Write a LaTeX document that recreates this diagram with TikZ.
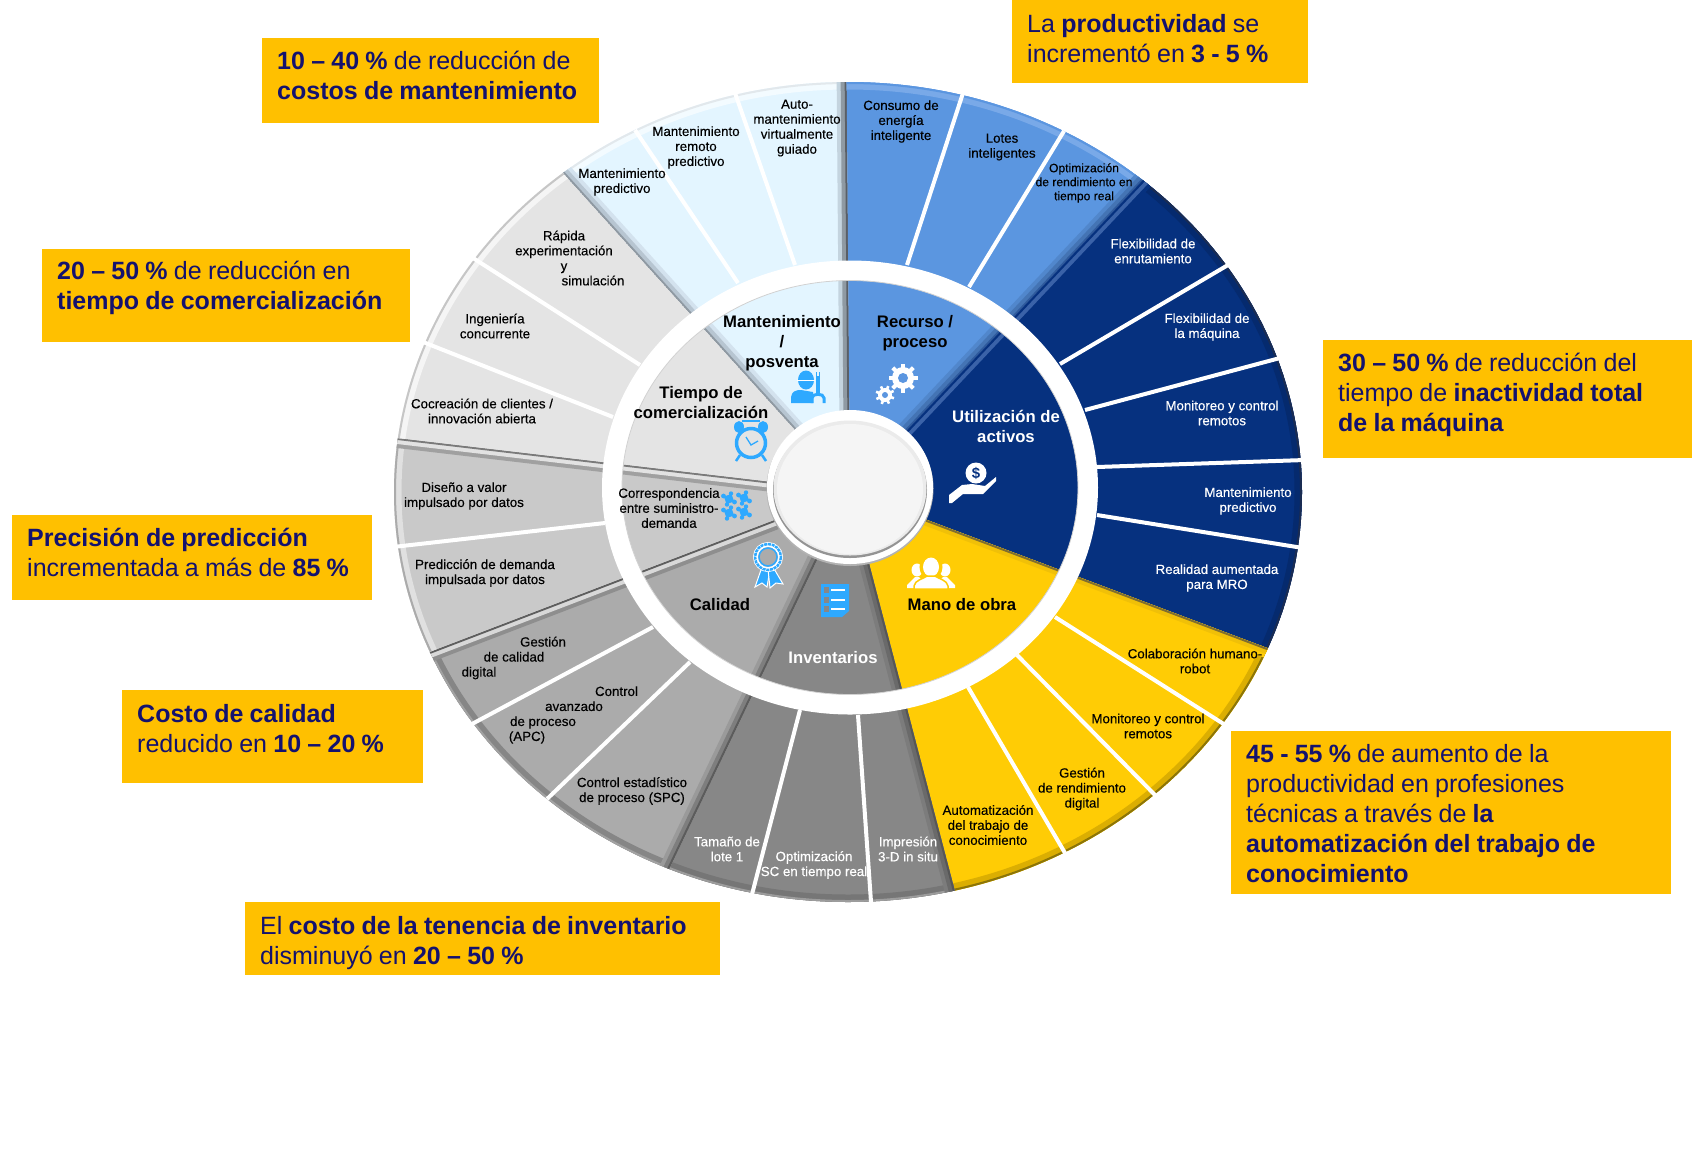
\documentclass[tikz,border=0pt]{standalone}
\usepackage{fontspec}
\setmainfont{Liberation Sans}
\newfontfamily\wheelfont[FakeBold=0.25]{Liberation Sans}
\newfontfamily\boxfont[WordSpace=0.9]{Liberation Sans}
\definecolor{boxfill}{HTML}{FFC000}
\definecolor{boxtext}{HTML}{14126E}
\definecolor{iconblue}{HTML}{2EA9FF}
\definecolor{mantfill}{HTML}{E3F5FF}
\definecolor{recfill}{HTML}{5B96E0}
\definecolor{utilfill}{HTML}{06317F}
\definecolor{manofill}{HTML}{FFCC05}
\definecolor{invfill}{HTML}{878787}
\definecolor{calfill}{HTML}{ABABAB}
\definecolor{corrfill}{HTML}{C9C9C9}
\definecolor{tiemfill}{HTML}{E4E4E4}
\tikzset{
  callout/.style={text=boxtext,anchor=west,align=left,inner sep=0pt,
    font=\boxfont\fontsize{25}{30}\selectfont},
  lbl/.style={align=center,inner sep=0pt,text=black,font=\wheelfont\fontsize{13.3}{15}\selectfont},
  lblw/.style={lbl,text=white},
  head/.style={align=center,inner sep=0pt,text=black,font=\bfseries\fontsize{16.7}{20}\selectfont},
  headw/.style={head,text=white},
  gap/.style={draw=white,line width=4pt},
}
% one part of the wheel: fill, rim, rim edge, outline, bevels
\newcommand{\wheelpart}[5]{%
  \begin{scope}
    \definecolor{rimcol}{HTML}{#2}\definecolor{edgecol}{HTML}{#3}
    \clip #4;
    \fill[#1] #4;
    \draw[color=rimcol,line width=15pt] (848,492) ellipse (454 and 410);
    \draw[color=edgecol,line width=4pt] (848,492) ellipse (454 and 410);
    #5
  \end{scope}}
\newcommand{\bevel}[5]{%
  \definecolor{bevA}{HTML}{#3}\definecolor{bevB}{HTML}{#4}\definecolor{bevC}{HTML}{#5}
  \draw[color=bevA,line width=20pt] (#1) -- (#2);
  \draw[color=bevB,line width=12pt] (#1) -- (#2);
  \draw[color=bevC,line width=4pt] (#1) -- (#2);}
\begin{document}
\begin{tikzpicture}[x=1pt,y=-1pt]
\useasboundingbox (0,0) rectangle (1692,1163);
\coordinate (hubc) at (850,491);
\coordinate (tipA) at (846,0);
\coordinate (tipB) at (1231,87);
\coordinate (tipC) at (1392,695);
\coordinate (tipD) at (986,1010);
\coordinate (tipE) at (616,980);
\coordinate (tipF) at (304,700);
\coordinate (tipG) at (261,422);
\coordinate (tipH) at (477,78);
% Wheel
\begin{scope}
\clip (848,492) ellipse (454 and 410);
\wheelpart{mantfill}{F3FBFF}{E2E8EC}{(hubc) -- (tipH) -- (tipA) -- cycle}
  {\bevel{hubc}{tipA}{C4D4DF}{8F9AA3}{5A5F66}\bevel{hubc}{tipH}{D3E2EE}{B7C5D1}{8F99A2}}
\wheelpart{recfill}{79A9E8}{5B96E0}{(hubc) -- (tipA) -- (tipB) -- cycle}
  {\bevel{hubc}{tipB}{5187CC}{4474B4}{2F5A9C}}
\wheelpart{utilfill}{052A6E}{1A2C52}{(hubc) -- (tipB) -- (1392,87) -- (tipC) -- cycle}
  {\bevel{hubc}{tipB}{06317F}{3A62A8}{06317F}}
\wheelpart{manofill}{DBAE02}{8C7508}{(hubc) -- (tipC) -- (1392,1010) -- (tipD) -- cycle}
  {\bevel{hubc}{tipC}{FFCC05}{F0C008}{806F30}}
\wheelpart{invfill}{767676}{9C9C9C}{(hubc) -- (tipD) -- (tipE) -- cycle}
  {\bevel{hubc}{tipD}{7C7C7C}{6A6A6A}{565656}}
\wheelpart{calfill}{868686}{A2A2A2}{(hubc) -- (tipE) -- (304,980) -- (tipF) -- cycle}
  {\bevel{hubc}{tipE}{9A9A9A}{7E7E7E}{5C5C5C}\bevel{hubc}{tipF}{8E8E8E}{D8D8D8}{5E5E5E}}
\wheelpart{corrfill}{E0E0E0}{ABABAB}{(hubc) -- (tipF) -- (tipG) -- cycle}
  {\bevel{hubc}{tipG}{A0A0A0}{E2E2E2}{7A7A7A}}
\wheelpart{tiemfill}{F5F5F5}{C6C6C6}{(hubc) -- (tipG) -- (261,78) -- (tipH) -- cycle}
  {}
\end{scope}
% white lines between the outer fields
\draw[gap] (795,265) -- (735,93);
\draw[gap] (738,283) -- (635,130);
\draw[gap] (640,365) -- (473,258);
\draw[gap] (613,417) -- (423,342);
\draw[gap] (605,523) -- (393,547);
\draw[gap] (653,627) -- (457,732);
\draw[gap] (690,662) -- (547,799);
\draw[gap] (800,710) -- (750,902);
\draw[gap] (858,715) -- (871,902);
\draw[gap] (968,687) -- (1065,853);
\draw[gap] (1017,655) -- (1155,795);
\draw[gap] (1055,617) -- (1230,728);
\draw[gap] (1060,364) -- (1228,265);
\draw[gap] (1085,410) -- (1280,358);
\draw[gap] (1097,467) -- (1305,460);
\draw[gap] (1097,515) -- (1303,548);
\draw[gap] (907,265) -- (963,93);
\draw[gap] (969,287) -- (1064,131);
% ring and hub
\fill[white,even odd rule] (850,487.5) ellipse (248 and 227) (850,487.5) ellipse (228 and 207);
\draw[color=black!18,line width=0.8pt] (850,487.5) ellipse (228 and 207);
\fill[color=black!30] (850,488.5) ellipse (83.5 and 77.5);
\fill[white] (850,487) ellipse (83 and 77);
\fill[color=black!42] (850,490) ellipse (77 and 68);
\fill[color=black!8] (850,488) ellipse (76.5 and 67.5);
\fill[color=black!4] (850,489) ellipse (73 and 65);
% Icons
% worker
\fill[iconblue] (806,380) ellipse (8 and 9.5);
\draw[white,line width=1pt] (797,380) -- (815,380);
\fill[iconblue] (791,403) -- (791,397) .. controls (792,391) and (796,390) .. (801,390) -- (813,392) -- (813,403) -- cycle;
\draw[color=mantfill,line width=5pt] (818,372) -- (818,394);
\draw[iconblue,line width=4.5pt] (818,372) -- (818,394);
\draw[iconblue,line width=3pt] (812,403) -- (812,398) .. controls (812,393) and (824,393) .. (824,398) -- (824,403);
\draw[color=mantfill,line width=1.5pt] (818,370) -- (818,376);
% clock
\draw[iconblue,line width=3.5pt] (751,443) circle (14.5);
\fill[iconblue] (739,427) ellipse (5 and 6);
\fill[iconblue] (763,427) ellipse (5 and 6);
\draw[iconblue,line width=1.5pt] (742,421) -- (760,421);
\draw[iconblue,line width=2.5pt] (740,455) -- (736,461);
\draw[iconblue,line width=2.5pt] (762,455) -- (766,461);
\draw[iconblue,line width=1.3pt] (746,437) -- (751,445) -- (758,441);
% puzzle
\foreach \px/\py in {729/499,744/498,729/513,744/512} {
  \fill[iconblue,rotate around={20:(\px,\py)}] (\px-4,\py-4) rectangle (\px+4,\py+4);
  \fill[iconblue] (\px-5.5,\py-3) circle (2.4);
  \fill[iconblue] (\px+5.5,\py+3) circle (2.4);
  \fill[iconblue] (\px+2,\py-5.5) circle (2.2);
  \fill[iconblue] (\px-2,\py+5.5) circle (2.2);
}
% ribbon
\fill[iconblue,draw=white,line width=1pt] (762,567) -- (755,587) -- (762,583) -- (767,587) -- (770,569) -- cycle;
\fill[iconblue,draw=white,line width=1pt] (773,567) -- (783,584) -- (776,583) -- (770,588) -- (768,569) -- cycle;
\draw[white,line width=5pt] (768,557) circle (12.5);
\draw[iconblue,line width=2.5pt,dash pattern=on 3pt off 0.8pt] (768,557) circle (13);
\draw[iconblue,line width=1.5pt] (768,557) circle (9);
% checklist
\fill[iconblue] (821,584) -- (849,584) -- (849,611) -- (842,617) -- (821,617) -- cycle;
\foreach \py in {590,600,609} {
  \draw[white,line width=1.6pt] (831,\py) -- (845,\py);
  \fill[color=invfill] (823.5,\py-3) rectangle (829,\py+2.5);
}
% people
\foreach \px/\py in {917/570,945/570} {
  \fill[white] (\px,\py) ellipse (5.5 and 6.5);
  \fill[white] (\px-10,588) -- (\px-10,585) -- (\px-2,577) -- (\px+2,577) -- (\px+10,585) -- (\px+10,588) -- cycle;
}
\draw[color=manofill,line width=3pt] (931,567) ellipse (10 and 11);
\fill[white] (931,567) ellipse (8 and 9.5);
\fill[white,draw=manofill,line width=1.5pt] (914,589) -- (914,586) .. controls (915,580) and (923,579) .. (927,576) -- (935,576) .. controls (939,579) and (947,580) .. (948,586) -- (948,589) -- cycle;
% hand
\fill[white] (976,473) circle (10.5);
\node[text=utilfill,inner sep=0pt,font=\bfseries\fontsize{15}{15}\selectfont] (coinsign) at (976,473) {\$};
\fill[white] (949,495) -- (962,485) -- (972,484) -- (985,486) -- (996,477) -- (996,481) -- (983,494) -- (963,494) -- (952,503) -- (949,503) -- cycle;
% gears
\fill[white] (903,378) circle (11);
\foreach \ang in {0,45,...,315} {
  \draw[white,line width=4pt] (903,378) -- ++(\ang:14.5);
}
\fill[color=recfill] (903,378) circle (5);
\fill[white] (885,395) circle (7);
\foreach \ang in {20,65,...,335} {
  \draw[white,line width=2.6pt] (885,395) -- ++(\ang:9.5);
}
\fill[color=recfill] (885,395) circle (3);
% Text in the wheel
\node[head] (mantHead) at (782,343) {Mantenimiento\\/\\posventa};
\node[head] (recHead) at (915,333) {Recurso /\\proceso};
\node[headw] (utilHead) at (1006,426) {Utilización de\\activos};
\node[head] (manoHead) at (962,605) {Mano de obra};
\node[headw] (invHead) at (833,658) {Inventarios};
\node[head] (calHead) at (720,605) {Calidad};
\node[lbl] (corrHead) at (669,508) {Correspondencia\\entre suministro-\\demanda};
\node[head] (tiemHead) at (701,403) {Tiempo de\\comercialización};
\node[lbl] (autoMant) at (797,128) {Auto-\\mantenimiento\\virtualmente\\guiado};
\node[lbl] (remMant) at (696,147.5) {Mantenimiento\\remoto\\predictivo};
\node[lbl] (predMant) at (622,182) {Mantenimiento\\predictivo};
\node[lbl] (rapExp) at (564,258) {Rápida\\experimentación\\y\\\hspace*{58pt}simulación};
\node[lbl] (ingConc) at (495,326) {Ingeniería\\concurrente};
\node[lbl] (cocre) at (482,411) {Cocreación de clientes /\\innovación abierta};
\node[lbl] (disVal) at (464,496) {Diseño a valor\\impulsado por datos};
\node[lbl] (predDem) at (485,573) {Predicción de demanda\\impulsada por datos};
\node[lbl] (gestCal) at (514,658) {\hspace*{58pt}Gestión\\de calidad\\digital\hspace*{70pt}};
\node[lbl] (ctrlApc) at (574,715) {\hspace*{85pt}Control\\avanzado\\de proceso\hspace*{62pt}\mbox{}\\(APC)\hspace*{94pt}};
\node[lbl] (ctrlSpc) at (632,791) {Control estadístico\\de proceso (SPC)};
\node[lblw] (tamLote) at (727,849) {Tamaño de\\lote 1};
\node[lblw] (optSc) at (814,865) {Optimización\\SC en tiempo real};
\node[lblw] (imp3d) at (908,849) {Impresión\\3-D in situ};
\node[lbl] (autoTrab) at (988,825) {Automatización\\del trabajo de\\conocimiento};
\node[lbl] (gestRend) at (1082,789) {Gestión\\de rendimiento\\digital};
\node[lbl] (monRemA) at (1148,726) {Monitoreo y control\\remotos};
\node[lbl] (colab) at (1195,661) {Colaboración humano-\\robot};
\node[lblw] (realAum) at (1217,578) {Realidad aumentada\\para MRO};
\node[lblw] (mantPred) at (1248,501) {Mantenimiento\\predictivo};
\node[lblw] (monRemB) at (1222,413) {Monitoreo y control\\remotos};
\node[lblw] (flexMaq) at (1207,327) {Flexibilidad de\\la máquina};
\node[lblw] (flexEnr) at (1153,251) {Flexibilidad de\\enrutamiento};
\node[lbl,font=\wheelfont\fontsize{12.1}{14}\selectfont] (optRend) at (1084,183) {Optimización\\de rendimiento en\\tiempo real};
\node[lbl] (lotes) at (1002,147) {Lotes\\inteligentes};
\node[lbl] (consumo) at (901,121.5) {Consumo de\\energía\\inteligente};
% Boxes
\fill[boxfill] (1012,0) rectangle (1308,83);
\node[callout] (boxProd) at (1027,39) {La \textbf{productividad} se\\incrementó en \textbf{3 - 5 \%}};
\fill[boxfill] (262,38) rectangle (599,123);
\node[callout] (boxMant) at (277,75.5) {\textbf{10 – 40 \%} de reducción de\\\textbf{costos de mantenimiento}};
\fill[boxfill] (42,249) rectangle (410,342);
\node[callout] (boxTiem) at (57,288) {\textbf{20 – 50 \%} de reducción en\\\textbf{tiempo de comercialización}};
\fill[boxfill] (12,515) rectangle (372,600);
\node[callout] (boxPred) at (27,552.5) {\textbf{Precisión de predicción}\\incrementada a más de \textbf{85 \%}};
\fill[boxfill] (122,690) rectangle (423,783);
\node[callout] (boxCal) at (137,728.5) {\textbf{Costo de calidad}\\reducido en \textbf{10 – 20 \%}};
\fill[boxfill] (245,902) rectangle (720,975);
\node[callout] (boxInv) at (260,943) {El \textbf{costo de la tenencia de inventario}\\disminuyó en \textbf{20 – 50 \%}};
\fill[boxfill] (1231,731) rectangle (1671,894);
\node[callout] (boxMano) at (1246,813.5) {\textbf{45 - 55 \%} de aumento de la\\productividad en profesiones\\técnicas a través de \textbf{la}\\\textbf{automatización del trabajo de}\\\textbf{conocimiento}};
\fill[boxfill] (1323,340) rectangle (1692,458);
\node[callout] (boxUtil) at (1338,395) {\textbf{30 – 50 \%} de reducción del\\tiempo de \textbf{inactividad total}\\\textbf{de la máquina}};
\end{tikzpicture}
\end{document}
